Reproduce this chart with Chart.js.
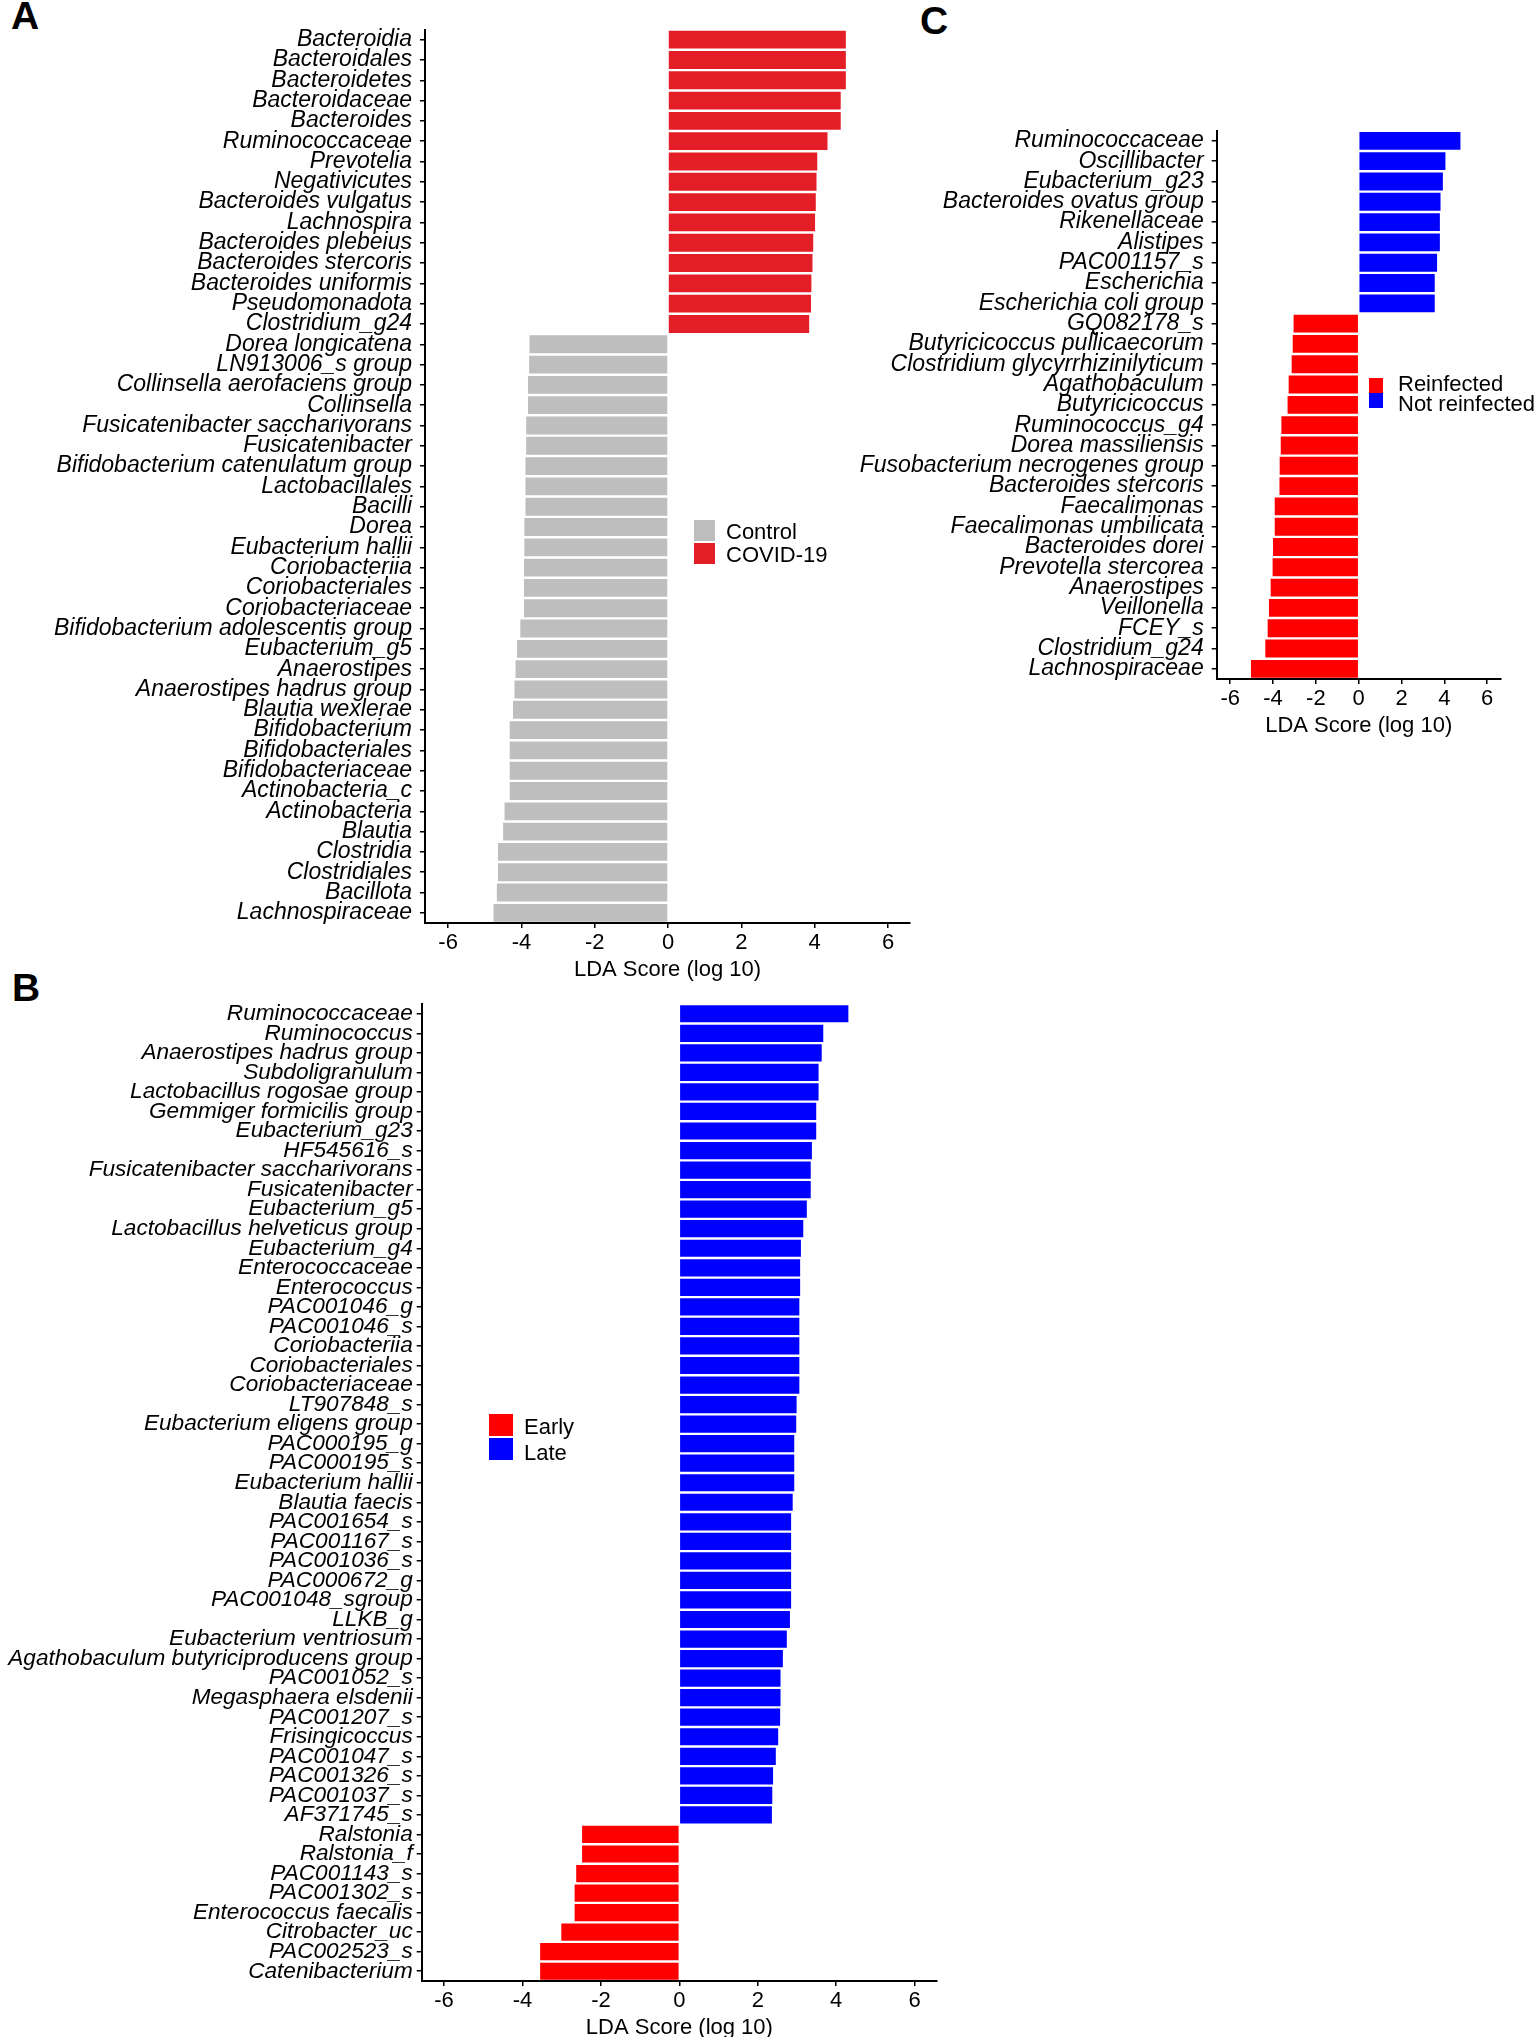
<!DOCTYPE html>
<html>
<head>
<meta charset="utf-8">
<script src="https://cdn.jsdelivr.net/npm/chart.js@4.4.1/dist/chart.umd.min.js"></script>
<style>
  html, body { margin: 0; padding: 0; background: #fff; overflow: hidden; }
  body { width: 1535px; height: 2037px; position: relative; font-family: 'Liberation Sans', Arial, sans-serif; color: #000; }
  canvas { position: absolute; }
  .letter { position: absolute; font-weight: bold; font-size: 39px; line-height: 1; }
  .box { position: absolute; }
  .ltext { position: absolute; font-size: 22px; line-height: 22px; white-space: nowrap; }
</style>
</head>
<body>
<div class="letter" style="left:11px; top:-4px;">A</div>
<div class="letter" style="left:12px; top:968px;">B</div>
<div class="letter" style="left:920px; top:1px;">C</div>

<canvas id="chartA" width="930" height="983" style="left:0px; top:0px;"></canvas>
<canvas id="chartB" width="960" height="1051" style="left:0px; top:990px;"></canvas>
<canvas id="chartC" width="715" height="739" style="left:820px; top:0px;"></canvas>

<script>
const xTicks = [-6, -4, -2, 0, 2, 4, 6];

// A: Control vs COVID-19
const labelsA = ['Bacteroidia', 'Bacteroidales', 'Bacteroidetes', 'Bacteroidaceae', 'Bacteroides',
  'Ruminococcaceae', 'Prevotelia', 'Negativicutes', 'Bacteroides vulgatus', 'Lachnospira',
  'Bacteroides plebeius', 'Bacteroides stercoris', 'Bacteroides uniformis', 'Pseudomonadota', 'Clostridium_g24',
  'Dorea longicatena', 'LN913006_s group', 'Collinsella aerofaciens group', 'Collinsella',
  'Fusicatenibacter saccharivorans', 'Fusicatenibacter', 'Bifidobacterium catenulatum group', 'Lactobacillales',
  'Bacilli', 'Dorea', 'Eubacterium hallii', 'Coriobacteriia', 'Coriobacteriales', 'Coriobacteriaceae',
  'Bifidobacterium adolescentis group', 'Eubacterium_g5', 'Anaerostipes', 'Anaerostipes hadrus group',
  'Blautia wexlerae', 'Bifidobacterium', 'Bifidobacteriales', 'Bifidobacteriaceae', 'Actinobacteria_c',
  'Actinobacteria', 'Blautia', 'Clostridia', 'Clostridiales', 'Bacillota', 'Lachnospiraceae'];
const scoresA = [4.85, 4.85, 4.85, 4.71, 4.71, 4.35, 4.07, 4.05, 4.03, 4.01, 3.96, 3.94, 3.91, 3.90, 3.85,
  -3.78, -3.79, -3.82, -3.82, -3.87, -3.87, -3.89, -3.89, -3.89, -3.92, -3.92, -3.93, -3.93, -3.93,
  -4.03, -4.12, -4.16, -4.19, -4.23, -4.32, -4.32, -4.32, -4.32, -4.46, -4.50, -4.64, -4.64, -4.67, -4.76];
const legendA = ['Control', 'COVID-19'];

// B: Early vs Late
const labelsB = ['Ruminococcaceae', 'Ruminococcus', 'Anaerostipes hadrus group', 'Subdoligranulum',
  'Lactobacillus rogosae group', 'Gemmiger formicilis group', 'Eubacterium_g23', 'HF545616_s',
  'Fusicatenibacter saccharivorans', 'Fusicatenibacter', 'Eubacterium_g5', 'Lactobacillus helveticus group',
  'Eubacterium_g4', 'Enterococcaceae', 'Enterococcus', 'PAC001046_g', 'PAC001046_s', 'Coriobacteriia',
  'Coriobacteriales', 'Coriobacteriaceae', 'LT907848_s', 'Eubacterium eligens group', 'PAC000195_g',
  'PAC000195_s', 'Eubacterium hallii', 'Blautia faecis', 'PAC001654_s', 'PAC001167_s', 'PAC001036_s',
  'PAC000672_g', 'PAC001048_sgroup', 'LLKB_g', 'Eubacterium ventriosum', 'Agathobaculum butyriciproducens group',
  'PAC001052_s', 'Megasphaera elsdenii', 'PAC001207_s', 'Frisingicoccus', 'PAC001047_s', 'PAC001326_s',
  'PAC001037_s', 'AF371745_s', 'Ralstonia', 'Ralstonia_f', 'PAC001143_s', 'PAC001302_s',
  'Enterococcus faecalis', 'Citrobacter_uc', 'PAC002523_s', 'Catenibacterium'];
const scoresB = [4.31, 3.67, 3.63, 3.55, 3.55, 3.49, 3.49, 3.38, 3.35, 3.35, 3.25, 3.16, 3.10, 3.08, 3.08,
  3.06, 3.06, 3.06, 3.06, 3.06, 2.99, 2.98, 2.93, 2.93, 2.93, 2.89, 2.85, 2.85, 2.85, 2.85, 2.85, 2.82,
  2.74, 2.64, 2.58, 2.58, 2.57, 2.52, 2.46, 2.39, 2.37, 2.36,
  -2.48, -2.48, -2.63, -2.67, -2.67, -3.01, -3.55, -3.55];
const legendB = ['Early', 'Late'];

// C: Reinfected vs Not reinfected
const labelsC = ['Ruminococcaceae', 'Oscillibacter', 'Eubacterium_g23', 'Bacteroides ovatus group',
  'Rikenellaceae', 'Alistipes', 'PAC001157_s', 'Escherichia', 'Escherichia coli group', 'GQ082178_s',
  'Butyricicoccus pullicaecorum', 'Clostridium glycyrrhizinilyticum', 'Agathobaculum', 'Butyricicoccus',
  'Ruminococcus_g4', 'Dorea massiliensis', 'Fusobacterium necrogenes group', 'Bacteroides stercoris',
  'Faecalimonas', 'Faecalimonas umbilicata', 'Bacteroides dorei', 'Prevotella stercorea', 'Anaerostipes',
  'Veillonella', 'FCEY_s', 'Clostridium_g24', 'Lachnospiraceae'];
const scoresC = [4.75, 4.05, 3.93, 3.82, 3.79, 3.79, 3.66, 3.55, 3.55,
  -3.04, -3.08, -3.13, -3.27, -3.32, -3.61, -3.64, -3.69, -3.70, -3.92, -3.92, -4.00, -4.02, -4.11,
  -4.19, -4.25, -4.36, -5.03];
const legendC = ['Reinfected', 'Not reinfected'];

Chart.defaults.font.family = "'Liberation Sans', Arial, sans-serif";
Chart.defaults.color = '#000';

function drawPanel(id, labels, scores, negColor, posColor, xMin, xMax, axisWidth, pad, labelSize, labelGap) {
  const ctx = document.getElementById(id).getContext('2d');
  return new Chart(ctx, {
    type: 'bar',
    data: {
      labels: labels,
      datasets: [{
        data: scores,
        backgroundColor: scores.map(v => v < 0 ? negColor : posColor),
        borderWidth: 0,
        barPercentage: 0.88,
        categoryPercentage: 1
      }]
    },
    options: {
      indexAxis: 'y',
      responsive: false,
      animation: false,
      layout: { padding: pad },
      plugins: { legend: { display: false }, tooltip: { enabled: false } },
      scales: {
        x: {
          type: 'linear',
          min: xMin,
          max: xMax,
          afterBuildTicks: s => { s.ticks = xTicks.map(v => ({ value: v })); },
          afterFit: s => { s.height = 60; s.paddingLeft = 0; s.paddingRight = 0; },
          grid: { drawOnChartArea: false, drawTicks: true, tickLength: 5, color: '#000', lineWidth: 1.5 },
          border: { display: true, color: '#000', width: 2 },
          ticks: { color: '#000', font: { size: 22 }, padding: 2, maxRotation: 0 },
          title: { display: true, text: 'LDA Score (log 10)', color: '#000', font: { size: 22 }, padding: 0 }
        },
        y: {
          afterFit: s => { s.width = axisWidth; s.paddingTop = 0; s.paddingBottom = 0; },
          grid: { offset: false, drawOnChartArea: false, drawTicks: true, tickLength: 5, color: '#000', lineWidth: 1.5 },
          border: { display: true, color: '#000', width: 2 },
          ticks: { autoSkip: false, color: '#000', font: { size: labelSize, style: 'italic', lineHeight: 1 }, padding: labelGap }
        }
      }
    }
  });
}

// legend swatches + text placed as plain html
function addLegend(names, colors, boxes, texts) {
  for (let i = 0; i < names.length; i++) {
    const b = document.createElement('div');
    b.className = 'box';
    b.style.left = boxes.x + 'px';
    b.style.top = (boxes.y + i * boxes.step) + 'px';
    b.style.width = boxes.w + 'px';
    b.style.height = boxes.h + 'px';
    b.style.background = colors[i];
    document.body.appendChild(b);
    const t = document.createElement('div');
    t.className = 'ltext';
    t.style.left = texts.x + 'px';
    t.style.top = (texts.y + i * texts.step) + 'px';
    t.textContent = names[i];
    document.body.appendChild(t);
  }
}

drawPanel('chartA', labelsA, scoresA, '#BEBEBE', '#E41E26', -6.63, 6.6, 425,
  { top: 29.5, right: 20, bottom: 0, left: 0 }, 23, 8);
drawPanel('chartB', labelsB, scoresB, '#FF0000', '#0000FF', -6.57, 6.57, 421.7,
  { top: 14, right: 23, bottom: 0, left: 0 }, 22.6, 4);
drawPanel('chartC', labelsC, scoresC, '#FF0000', '#0000FF', -6.63, 6.63, 396.7,
  { top: 130.7, right: 34.3, bottom: 0, left: 0 }, 23, 8);

addLegend(legendA, ['#BEBEBE', '#E41E26'], { x: 694, y: 520, w: 21, h: 21, step: 23 }, { x: 726, y: 521, step: 23.3 });
addLegend(legendB, ['#FF0000', '#0000FF'], { x: 489, y: 1414, w: 24, h: 22, step: 24 }, { x: 524, y: 1416, step: 25.5 });
addLegend(legendC, ['#FF0000', '#0000FF'], { x: 1369, y: 378, w: 14, h: 15, step: 15 }, { x: 1398, y: 373, step: 20 });
</script>
</body>
</html>
